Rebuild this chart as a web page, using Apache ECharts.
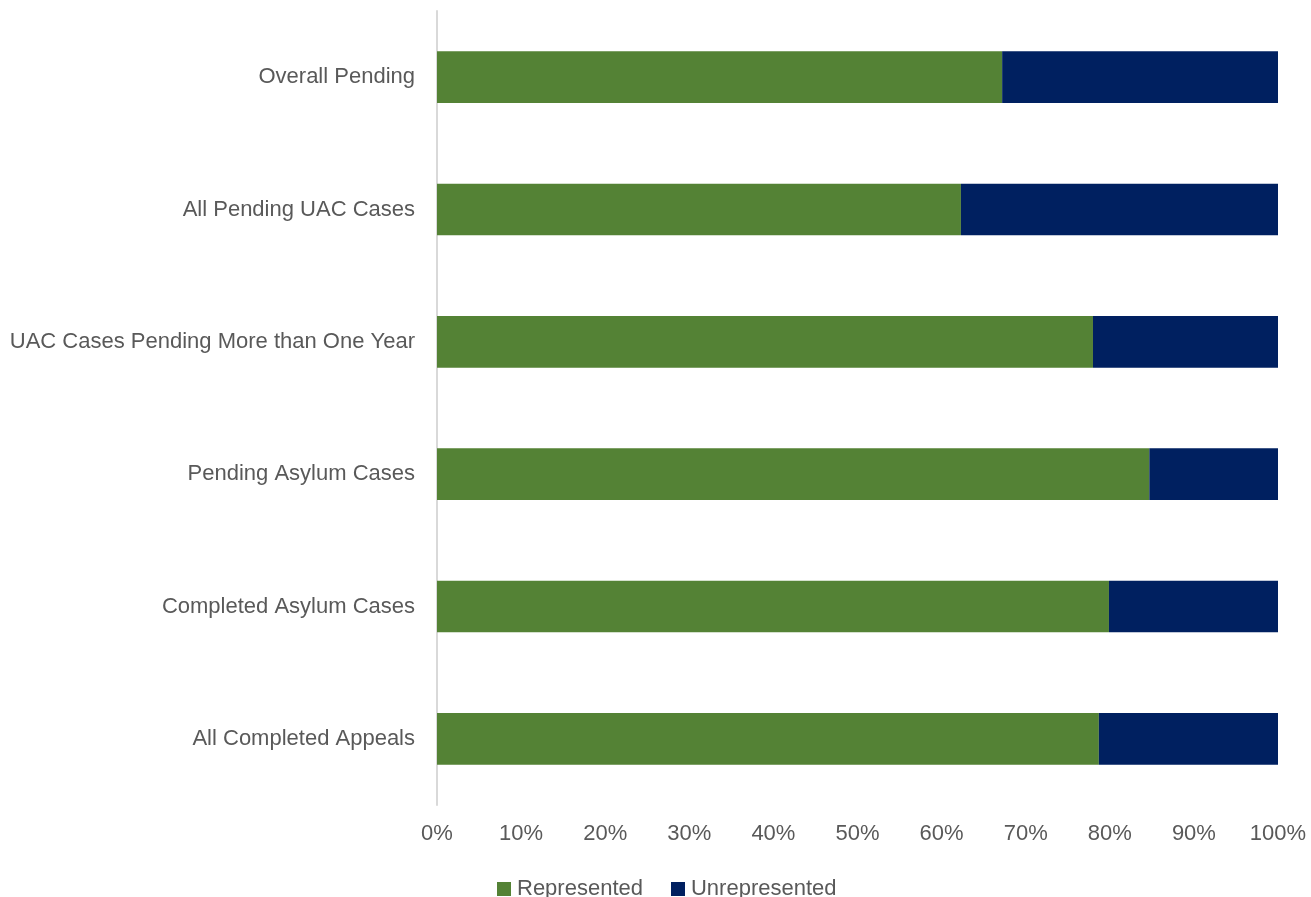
<!DOCTYPE html>
<html>
<head>
<meta charset="utf-8">
<script src="https://cdn.jsdelivr.net/npm/echarts@6/dist/echarts.min.js"></script>
<style>
  html, body { margin: 0; padding: 0; background: #fff; }
  #chart { width: 1311px; height: 897px; }
</style>
</head>
<body>
<div id="chart"></div>
<script>
// categories, top to bottom
const categories = [
  'Overall Pending',
  'All Pending UAC Cases',
  'UAC Cases Pending More than One Year',
  'Pending Asylum Cases',
  'Completed Asylum Cases',
  'All Completed Appeals'
]
// share of cases, percent
const represented = [67.2, 62.3, 78.0, 84.7, 79.9, 78.7]
const unrepresented = represented.map(v => +(100 - v).toFixed(1))
const xTicks = [0, 10, 20, 30, 40, 50, 60, 70, 80, 90, 100]

const chart = echarts.init(document.getElementById('chart'))

const font = '"Liberation Sans", "Open Sans", sans-serif'

const option = {
  animation: false,
  textStyle: { fontFamily: font },
  grid: {
    left: 437,
    right: 33,
    top: 11,
    bottom: 92,
    containLabel: false
  },
  legend: {
    left: 492,
    top: 873,
    itemWidth: 14,
    itemHeight: 14,
    itemGap: 28,
    icon: 'rect',
    textStyle: { fontSize: 22, color: '#595959', fontFamily: font, padding: [0, 0, 0, 1] },
    data: ['Represented', 'Unrepresented']
  },
  xAxis: {
    type: 'value',
    min: xTicks[0],
    max: xTicks[xTicks.length - 1],
    interval: 10,
    axisLine: { show: false },
    axisTick: { show: false },
    splitLine: { show: false },
    axisLabel: {
      formatter: '{value}%',
      fontSize: 22,
      color: '#595959',
      margin: 18,
      fontFamily: font
    }
  },
  yAxis: {
    type: 'category',
    inverse: true,
    data: categories,
    axisLine: { show: true, lineStyle: { color: '#d9d9d9', width: 2 } },
    axisTick: { show: false },
    axisLabel: {
      fontSize: 22,
      color: '#595959',
      margin: 22,
      fontFamily: font
    }
  },
  series: [
    {
      name: 'Represented',
      type: 'bar',
      stack: 'total',
      barWidth: '39%',
      itemStyle: { color: '#548235' },
      data: represented
    },
    {
      name: 'Unrepresented',
      type: 'bar',
      stack: 'total',
      barWidth: '39%',
      itemStyle: { color: '#002060' },
      data: unrepresented
    }
  ]
}

chart.setOption(option)
</script>
</body>
</html>
